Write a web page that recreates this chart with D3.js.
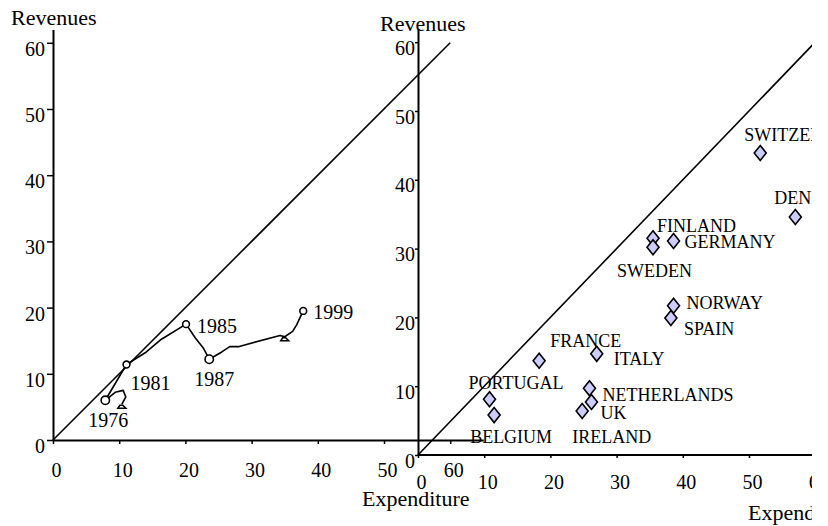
<!DOCTYPE html>
<html>
<head>
<meta charset="utf-8">
<script src="https://cdn.jsdelivr.net/npm/d3@7"></script>
<style>
  body { margin: 0; background: #fff; }
  svg { display: block; font-family: "Liberation Serif", "Times New Roman", serif; }
  .axis .domain { stroke: #000; stroke-width: 2; }
  .axis line { stroke: #000; stroke-width: 1.5; }
  .axis text { font-size: 20px; fill: #000; font-family: "Liberation Serif", serif; }
</style>
</head>
<body>
<svg id="chart"></svg>
<script>
const width = 828;
const height = 526;

// left panel: one country's path over time (expenditure vs revenues)
const pathExp = [10.4, 11.0, 10.6, 9.4, 7.9, 11.1, 14.1, 16.2, 20.1, 21.5, 22.7, 23.6, 25.5, 26.7, 28.0, 34.3, 35.0, 36.2, 36.8, 37.8];
const pathRev = [5.4, 6.5, 7.5, 7.2, 6.0, 11.4, 13.3, 15.1, 17.5, 15.4, 13.9, 12.2, 13.3, 14.1, 14.1, 15.8, 15.6, 16.4, 17.4, 19.5];
const pathYear = ["", "", "", "", "1976", "1981", "", "", "1985", "", "", "1987", "", "", "", "", "", "", "", "1999"];
const triangleAt = [0, 16];

// right panel: countries
const countries = ["SWITZERLAND", "DENMARK", "FINLAND", "GERMANY", "SWEDEN", "NORWAY", "SPAIN", "FRANCE", "ITALY", "PORTUGAL", "BELGIUM", "NETHERLANDS", "UK", "IRELAND"];
const expenditure = [51.7, 57.0, 35.5, 38.6, 35.5, 38.6, 38.2, 18.3, 27.0, 10.8, 11.5, 25.9, 26.2, 24.8];
const revenues = [43.9, 34.6, 31.5, 31.1, 30.2, 21.7, 19.9, 13.7, 14.7, 8.1, 5.8, 9.7, 7.7, 6.4];

const ticks = [0, 10, 20, 30, 40, 50, 60];

// label placement (pixels, relative to the mark)
const countryOffset = {
  SWITZERLAND: [-16, -12], DENMARK: [-21, -13], FINLAND: [4, -6], GERMANY: [11, 7],
  SWEDEN: [-36, 30], NORWAY: [13, 3], SPAIN: [13, 17], FRANCE: [11, -14], ITALY: [17, 11],
  PORTUGAL: [-21, -10], BELGIUM: [-24, 28], NETHERLANDS: [13, 13], UK: [9, 17], IRELAND: [-10, 32]
};
const yearOffset = { "1976": [-17, 27], "1981": [4, 25], "1985": [11, 9], "1987": [-15, 27], "1999": [10, 8] };

const svg = d3.select("#chart")
    .attr("width", width)
    .attr("height", height);

svg.append("defs").append("clipPath").attr("id", "clip")
    .append("rect").attr("x", 0).attr("y", 0).attr("width", 812).attr("height", height);

const root = svg.append("g").attr("clip-path", "url(#clip)");

// scales
const xL = d3.scaleLinear().domain([0, 65]).range([53, 53 + 65 * 6.62]);
const yL = d3.scaleLinear().domain([0, 62]).range([440, 440 - 62 * 6.62]);
const xR = d3.scaleLinear().domain([0, 60]).range([418, 418 + 60 * 6.62]);
const yR = d3.scaleLinear().domain([0, 62]).range([455, 455 - 62 * 6.88]);

// ---- left panel ----
const left = root.append("g");

left.append("g").attr("class", "axis")
    .attr("transform", "translate(0,440)")
    .call(d3.axisBottom(xL).tickValues(ticks).tickSize(4).tickSizeOuter(0).tickPadding(19))
    .call(g => g.selectAll("text").attr("dx", 3));

left.append("g").attr("class", "axis")
    .attr("transform", "translate(53,0)")
    .call(d3.axisLeft(yL).tickValues(ticks).tickSize(6).tickSizeOuter(0).tickPadding(2))
    .call(g => g.selectAll("text").attr("dy", "0.62em"));

left.append("line")
    .attr("x1", xL(0)).attr("y1", yL(0))
    .attr("x2", xL(60)).attr("y2", yL(60))
    .attr("stroke", "#000").attr("stroke-width", 1.6);

const pts = pathExp.map((d, i) => [xL(d), yL(pathRev[i])]);

left.append("path")
    .attr("d", d3.line()(pts))
    .attr("fill", "none")
    .attr("stroke", "#000")
    .attr("stroke-width", 1.6)
    .attr("stroke-linejoin", "round");

left.selectAll(".tri")
    .data(triangleAt)
    .enter().append("path")
    .attr("class", "tri")
    .attr("transform", i => `translate(${pts[i][0]},${pts[i][1] + 1})`)
    .attr("d", "M-4,3 L4,3 L1,0 L-2,0 Z")
    .attr("fill", "none")
    .attr("stroke", "#000")
    .attr("stroke-width", 1.5);

const yearIdx = pathYear.map((y, i) => i).filter(i => pathYear[i] !== "");

left.selectAll(".yr")
    .data(yearIdx)
    .enter().append("circle")
    .attr("class", "yr")
    .attr("cx", i => pts[i][0])
    .attr("cy", i => pts[i][1])
    .attr("r", i => (pathYear[i] === "1976" || pathYear[i] === "1987") ? 4.2 : 3.4)
    .attr("fill", "#fff")
    .attr("stroke", "#000")
    .attr("stroke-width", 1.6);

left.selectAll(".yrlab")
    .data(yearIdx)
    .enter().append("text")
    .attr("x", i => pts[i][0] + yearOffset[pathYear[i]][0])
    .attr("y", i => pts[i][1] + yearOffset[pathYear[i]][1])
    .attr("font-size", 20)
    .text(i => pathYear[i]);

left.append("text").attr("x", 11).attr("y", 25).attr("font-size", 22).text("Revenues");
left.append("text").attr("x", 362).attr("y", 506).attr("font-size", 22).text("Expenditure");

// ---- right panel ----
const right = root.append("g");

right.append("g").attr("class", "axis")
    .attr("transform", "translate(0,455)")
    .call(d3.axisBottom(xR).tickValues(ticks).tickSize(3).tickSizeOuter(0).tickPadding(17))
    .call(g => g.select(".domain").attr("d", `M418,0H812`))
    .call(g => g.selectAll("text").attr("dx", 3));

right.append("g").attr("class", "axis")
    .attr("transform", "translate(418,0)")
    .call(d3.axisLeft(yR).tickValues(ticks).tickSize(3).tickSizeOuter(0).tickPadding(0))
    .call(g => g.selectAll("text").attr("dy", "0.6em"));

right.append("line")
    .attr("x1", xR(0)).attr("y1", yR(0))
    .attr("x2", xR(60)).attr("y2", yR(60))
    .attr("stroke", "#000").attr("stroke-width", 1.6);

right.selectAll(".pt")
    .data(countries)
    .enter().append("path")
    .attr("class", "pt")
    .attr("transform", (d, i) => `translate(${xR(expenditure[i])},${yR(revenues[i])})`)
    .attr("d", "M0,-7.5 L6,0 L0,7.5 L-6,0 Z")
    .attr("fill", "#ccccff")
    .attr("stroke", "#000")
    .attr("stroke-width", 1.6);

right.selectAll(".clab")
    .data(countries)
    .enter().append("text")
    .attr("x", (d, i) => xR(expenditure[i]) + countryOffset[d][0])
    .attr("y", (d, i) => yR(revenues[i]) + countryOffset[d][1])
    .attr("font-size", 18)
    .text(d => d);

right.append("text").attr("x", 380).attr("y", 31).attr("font-size", 22).text("Revenues");
right.append("text").attr("x", 748).attr("y", 520).attr("font-size", 22).text("Expenditure");
</script>
</body>
</html>
